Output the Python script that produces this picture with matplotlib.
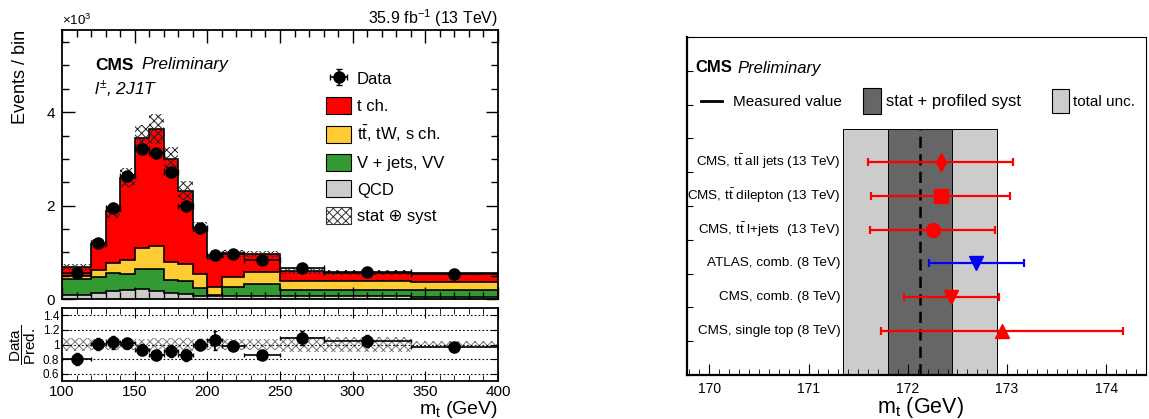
import numpy as np
import matplotlib
matplotlib.use("Agg")
import matplotlib.pyplot as plt
from matplotlib.ticker import MultipleLocator, NullFormatter
from matplotlib.patches import Patch
from matplotlib.lines import Line2D

plt.rcParams["font.family"] = ["Liberation Sans", "DejaVu Sans"]
plt.rcParams["mathtext.fontset"] = "custom"
plt.rcParams["mathtext.rm"] = "Liberation Sans"
plt.rcParams["mathtext.it"] = "Liberation Sans:italic"
plt.rcParams["mathtext.bf"] = "Liberation Sans:bold"
plt.rcParams["hatch.linewidth"] = 0.7

# ---- left panel: m_t distribution, l+-, 2J1T ----
bin_edges = [100, 120, 130, 140, 150, 160, 170, 180, 190, 200, 210, 225, 250, 280, 340, 400]
qcd = [80, 135, 180, 190, 210, 180, 135, 100, 65, 60, 70, 70, 60, 55, 50]
vjets = [340, 345, 370, 345, 430, 460, 275, 285, 175, 20, 190, 245, 130, 135, 140]
top_bkg = [80, 140, 230, 300, 460, 490, 390, 365, 295, 180, 220, 270, 200, 195, 180]
t_channel = [190, 560, 1100, 1765, 2350, 2510, 2190, 1570, 995, 635, 495, 385, 210, 175, 180]
data = [555, 1190, 1940, 2640, 3210, 3130, 2720, 1990, 1530, 950, 960, 835, 654, 588, 528]
unc_rel = [0.09, 0.08, 0.08, 0.08, 0.08, 0.09, 0.09, 0.09, 0.08, 0.07, 0.07, 0.07, 0.10, 0.10, 0.05]
ratio_err = [0.08, 0.08, 0.09, 0.08, 0.07, 0.07, 0.08, 0.08, 0.07, 0.13, 0.06, 0.03, 0.09, 0.08, 0.04]

# ---- right panel: m_t measurements ----
meas_labels = [r"CMS, t$\bar{\rm t}$ all jets (13 TeV)",
               r"CMS, t$\bar{\rm t}$ dilepton (13 TeV)",
               r"CMS, t$\bar{\rm t}$ l+jets  (13 TeV)",
               "ATLAS, comb. (8 TeV)",
               "CMS, comb. (8 TeV)",
               "CMS, single top (8 TeV)"]
meas_value = [172.33, 172.33, 172.25, 172.69, 172.44, 172.95]
meas_low = [171.60, 171.63, 171.62, 172.21, 171.96, 171.73]
meas_high = [173.06, 173.03, 172.88, 173.17, 172.92, 174.17]
meas_marker = ["d", "s", "o", "v", "v", "^"]
meas_color = ["red", "red", "red", "blue", "red", "red"]
meas_size = [9, 10, 10, 10, 10, 10]
this_value = 172.12
stat_prof = (171.80, 172.45)
total_unc = (171.35, 172.90)

W, H = 1149, 419
fig = plt.figure(figsize=(W / 100, H / 100), dpi=100)


def px_box(left, top, right, bottom):
    return [left / W, 1 - bottom / H, (right - left) / W, (bottom - top) / H]


ax = fig.add_axes(px_box(62, 30, 498, 299))
axr = fig.add_axes(px_box(62, 308, 498, 381))
ax2 = fig.add_axes(px_box(687, 37, 1146, 375))

edges = np.array(bin_edges, dtype=float)
centres = 0.5 * (edges[1:] + edges[:-1])
half_w = 0.5 * (edges[1:] - edges[:-1])

colours = ["#cccccc", "#339933", "#ffcc33", "#ff0000"]
components = [qcd, vjets, top_bkg, t_channel]
base = np.zeros(len(qcd))
tops = []
for vals, col in zip(components, colours):
    top = base + np.array(vals)
    ax.stairs(top / 1000, edges, baseline=base / 1000, fill=True, color=col, lw=0)
    tops.append(top)
    base = top
for top in tops:
    ax.stairs(top / 1000, edges, baseline=None, color="black", lw=1.2)
total = tops[-1]
unc = np.array(unc_rel)
ax.stairs(total * (1 + unc) / 1000, edges, baseline=total * (1 - unc) / 1000, fill=True,
          facecolor="none", edgecolor="#222222", hatch="xxxx", lw=0)

data = np.array(data, dtype=float)
eb = ax.errorbar(centres, data / 1000, yerr=np.sqrt(data) / 1000, xerr=half_w, fmt="o",
                 color="black", ms=8, lw=1.2, capsize=2)

ax.set_xlim(100, 400)
ax.set_ylim(0, 5.76)
ax.xaxis.set_major_locator(MultipleLocator(50))
ax.xaxis.set_minor_locator(MultipleLocator(10))
ax.yaxis.set_major_locator(MultipleLocator(2))
ax.yaxis.set_minor_locator(MultipleLocator(0.5))
ax.tick_params(which="both", direction="in", top=True, right=True, labelbottom=False)
ax.tick_params(which="major", length=9, width=1, labelsize=11, pad=5)
ax.tick_params(which="minor", length=5, width=1)
ax.set_ylabel("Events / bin", fontsize=13, loc="top")
ax.yaxis.set_label_coords(-0.075, 1.0)
for s in ax.spines.values():
    s.set_linewidth(1.3)

handles = [eb,
           Patch(facecolor="#ff0000", edgecolor="black", lw=0.8),
           Patch(facecolor="#ffcc33", edgecolor="black", lw=0.8),
           Patch(facecolor="#339933", edgecolor="black", lw=0.8),
           Patch(facecolor="#cccccc", edgecolor="black", lw=0.8),
           Patch(facecolor="white", edgecolor="#333333", hatch="xxxx", lw=0.8)]
labels = ["Data", "t ch.", r"t$\bar{\rm t}$, tW, s ch.", "V + jets, VV", "QCD",
          "stat \u2295 syst"]
ax.legend(handles, labels, loc="upper left", bbox_to_anchor=(326 / W, 1 - 70 / H),
          bbox_transform=fig.transFigure, frameon=False, fontsize=12, borderpad=0,
          borderaxespad=0, handlelength=1.5, handleheight=1.2, handletextpad=0.35,
          labelspacing=0.58)

fig.text(95 / W, 1 - 65 / H, "CMS", fontsize=12.5, fontweight="bold", va="center")
fig.text(141 / W, 1 - 65 / H, "Preliminary", fontsize=12.5, style="italic", va="center")
fig.text(94 / W, 1 - 89 / H, r"$\it{l}^{\pm}$, 2J1T", fontsize=12.5, style="italic", va="center")
fig.text(498 / W, 1 - 24 / H, r"35.9 fb$^{-1}$ (13 TeV)", fontsize=11.5, ha="right", va="baseline")
fig.text(62 / W, 1 - 28 / H, r"$\times$10$^{3}$", fontsize=9.5, ha="left", va="bottom")

# ratio
axr.stairs(1 + unc, edges, baseline=1 - unc, fill=True, facecolor="none",
           edgecolor="#777777", hatch="xxxx", lw=0)
axr.errorbar(centres, data / total, yerr=ratio_err, xerr=half_w, fmt="o", color="black",
             ms=8, lw=1.2, capsize=1.5)
axr.set_xlim(100, 400)
axr.set_ylim(0.5, 1.5)
axr.set_yticks([0.6, 0.8, 1.0, 1.2, 1.4])
axr.set_yticklabels(["0.6", "0.8", "1", "1.2", "1.4"])
axr.yaxis.grid(True, linestyle=(0, (1.5, 2)), color="black", lw=0.8)
axr.xaxis.set_major_locator(MultipleLocator(50))
axr.xaxis.set_minor_locator(MultipleLocator(10))
axr.tick_params(which="both", direction="in", top=True, right=True)
axr.tick_params(axis="x", which="major", length=7, labelsize=11, pad=3)
axr.tick_params(axis="x", which="minor", length=4)
axr.tick_params(axis="y", which="major", length=5, labelsize=8.5, pad=2)
axr.set_ylabel(r"$\dfrac{\rm Data}{\rm Pred.}$", fontsize=11)
axr.yaxis.set_label_coords(-0.056, 0.5)
axr.set_xlabel(r"m$_{\rm t}$ (GeV)", fontsize=14, loc="right")
axr.xaxis.set_label_coords(1.0, -0.25)
axr.xaxis.label.set_va("top")
for s in axr.spines.values():
    s.set_linewidth(1.3)

# ---- right panel ----
band_top = 7.28
ax2.fill_betweenx([0, band_top], total_unc[0], total_unc[1], facecolor="#cccccc",
                  edgecolor="black", lw=0.7)
ax2.fill_betweenx([0, band_top], stat_prof[0], stat_prof[1], facecolor="#666666",
                  edgecolor="black", lw=0.7)
ax2.plot([this_value, this_value], [0, band_top], color="black", lw=1.8, dashes=(4.5, 2.5))

n_meas = len(meas_labels)
for i in range(n_meas):
    y = 6.3 - i
    v = meas_value[i]
    ax2.errorbar([v], [y], xerr=[[v - meas_low[i]], [meas_high[i] - v]], fmt=meas_marker[i],
                 color=meas_color[i], ms=meas_size[i], lw=1.6, capsize=3, capthick=1.6)
    ax2.text(171.32, y, meas_labels[i], ha="right", va="center", fontsize=9.7)

ax2.set_xlim(169.775, 174.40)
ax2.set_ylim(0, 10)
ax2.xaxis.set_major_locator(MultipleLocator(1))
ax2.xaxis.set_minor_locator(MultipleLocator(0.1))
ax2.yaxis.set_major_locator(MultipleLocator(1))
ax2.yaxis.set_major_formatter(NullFormatter())
ax2.tick_params(which="both", direction="in")
ax2.tick_params(axis="x", which="major", length=8, labelsize=10, pad=5)
ax2.tick_params(axis="x", which="minor", length=4)
ax2.tick_params(axis="y", which="major", length=4)
ax2.set_xlabel(r"m$_{\rm t}$ (GeV)", fontsize=15.5)
ax2.xaxis.set_label_coords(0.508, -0.06)
ax2.xaxis.label.set_va("top")
ax2.spines["left"].set_linewidth(1.6)
ax2.spines["bottom"].set_linewidth(1.6)

fig.text(695 / W, 1 - 68 / H, "CMS", fontsize=12, fontweight="bold", va="center")
fig.text(737 / W, 1 - 68 / H, "Preliminary", fontsize=12, style="italic", va="center")

leg_kw = dict(loc="center left", bbox_transform=fig.transFigure, frameon=False,
              borderpad=0, borderaxespad=0)
l1 = ax2.legend([Line2D([], [], color="black", lw=2)], ["Measured value"],
                bbox_to_anchor=(701 / W, 1 - 102 / H), handlelength=1.35, handletextpad=0.75,
                fontsize=11, **leg_kw)
ax2.add_artist(l1)
l2 = ax2.legend([Patch(facecolor="#666666", edgecolor="black", lw=0.8)], ["stat + profiled syst"],
                bbox_to_anchor=(863 / W, 1 - 101 / H), handlelength=1.05, handleheight=2.1,
                handletextpad=0.3, fontsize=12, **leg_kw)
ax2.add_artist(l2)
ax2.legend([Patch(facecolor="#cccccc", edgecolor="black", lw=0.8)], ["total unc."],
           bbox_to_anchor=(1052 / W, 1 - 101 / H), handlelength=1.1, handleheight=2.1,
           handletextpad=0.3, fontsize=11, **leg_kw)

fig.savefig("out.png", dpi=100)
